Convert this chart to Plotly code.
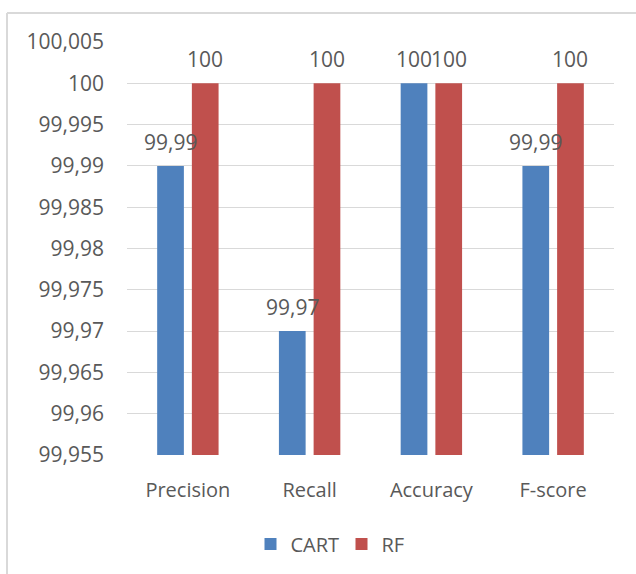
import plotly.graph_objects as go

# Metrics and scores for the two classifiers
categories = ["Precision", "Recall", "Accuracy", "F-score"]
cart_scores = [99.99, 99.97, 100, 99.99]
rf_scores = [100, 100, 100, 100]
series_names = ["CART", "RF"]

# Y axis ticks
y_ticks = [99.955, 99.96, 99.965, 99.97, 99.975, 99.98, 99.985, 99.99, 99.995, 100, 100.005]

CART_COLOR = "#4F81BD"
RF_COLOR = "#C0504D"
TEXT_COLOR = "#595959"
GRID_COLOR = "#D9D9D9"
FONT = "Open Sans, Lato, sans-serif"
FS = 21

FIG_W, FIG_H = 636, 574
M_L, M_R, M_T, M_B = 127, 22, 42, 118
PLOT_W = FIG_W - M_L - M_R
PLOT_H = FIG_H - M_T - M_B


def fmt(v):
    # decimal comma, no trailing zeros
    return f"{v:g}".replace(".", ",")


def px_x(px):
    return (px - M_L) / PLOT_W


def px_y(py):
    return (FIG_H - M_B - py) / PLOT_H


fig = go.Figure()
fig.add_trace(go.Bar(x=categories, y=cart_scores, name=series_names[0],
                     marker=dict(color=CART_COLOR, line=dict(width=0)),
                     hoverinfo="skip"))
fig.add_trace(go.Bar(x=categories, y=rf_scores, name=series_names[1],
                     marker=dict(color=RF_COLOR, line=dict(width=0)),
                     hoverinfo="skip"))

# Value labels above each bar
bar_offset = 17.3
for cat, v in zip(categories, cart_scores):
    fig.add_annotation(x=cat, y=v, text=fmt(v), showarrow=False, xshift=-bar_offset,
                       yanchor="bottom", yshift=8,
                       font=dict(size=FS, color=TEXT_COLOR, family=FONT))
for cat, v in zip(categories, rf_scores):
    fig.add_annotation(x=cat, y=v, text=fmt(v), showarrow=False, xshift=bar_offset,
                       yanchor="bottom", yshift=8,
                       font=dict(size=FS, color=TEXT_COLOR, family=FONT))

# Outer chart frame (top and left edges visible)
fig.add_shape(type="line", xref="paper", yref="paper",
              x0=px_x(7), x1=px_x(FIG_W + 20), y0=px_y(13), y1=px_y(13),
              line=dict(color=GRID_COLOR, width=2))
fig.add_shape(type="line", xref="paper", yref="paper",
              x0=px_x(7), x1=px_x(7), y0=px_y(13), y1=px_y(FIG_H + 20),
              line=dict(color=GRID_COLOR, width=2))

fig.update_layout(
    width=FIG_W, height=FIG_H,
    margin=dict(l=M_L, r=M_R, t=M_T, b=M_B),
    paper_bgcolor="white", plot_bgcolor="white",
    barmode="group", bargap=0.43, bargroupgap=0.23,
    separators=", ",
    font=dict(family=FONT, size=FS, color=TEXT_COLOR),
    showlegend=True,
    legend=dict(orientation="h", x=px_x(341.5), xanchor="center",
                y=px_y(544), yanchor="middle",
                font=dict(size=20, color=TEXT_COLOR, family=FONT),
                itemwidth=30, entrywidth=46, bgcolor="rgba(0,0,0,0)"),
    xaxis=dict(showgrid=False, showline=False, ticks="", ticklabelstandoff=21,
               tickfont=dict(size=20, color=TEXT_COLOR, family=FONT)),
    yaxis=dict(range=[y_ticks[0], y_ticks[-1]], tickvals=y_ticks,
               ticktext=[fmt(v) for v in y_ticks],
               showgrid=True, gridcolor=GRID_COLOR, gridwidth=1,
               zeroline=False, showline=False, ticks="", ticklabelstandoff=22,
               tickfont=dict(size=FS, color=TEXT_COLOR, family=FONT)),
)

fig.write_html("out.html")
